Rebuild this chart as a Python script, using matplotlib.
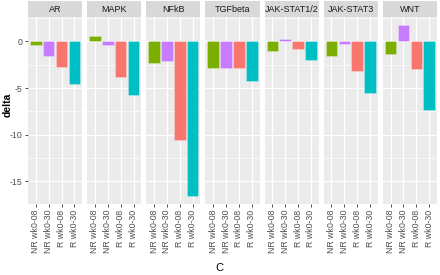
import matplotlib
matplotlib.use("Agg")
import matplotlib.pyplot as plt
import numpy as np

pathways = ["AR", "MAPK", "NFkB", "TGFbeta", "JAK-STAT1/2", "JAK-STAT3", "WNT"]
groups = ["NR wk0-08", "NR wk0-30", "R wk0-08", "R wk0-30"]
colors = ["#7CAE00", "#C77CFF", "#F8766D", "#00BFC4"]

ar = [-0.35, -1.55, -2.7, -4.55]
mapk = [0.55, -0.35, -3.8, -5.75]
nfkb = [-2.35, -2.1, -10.6, -16.5]
tgfbeta = [-2.8, -2.9, -2.8, -4.25]
jak12 = [-1.0, 0.25, -0.8, -2.0]
jak3 = [-1.6, -0.25, -3.2, -5.5]
wnt = [-1.3, 1.7, -2.95, -7.3]
values = [ar, mapk, nfkb, tgfbeta, jak12, jak3, wnt]

W, H = 440, 275
fig = plt.figure(figsize=(W / 100, H / 100), dpi=100)
plt.rcParams['font.family'] = ['Liberation Sans', 'DejaVu Sans']

allv = np.concatenate([np.array(v) for v in values] + [np.array([0.0])])
lo, hi = allv.min(), allv.max()
pad = (hi - lo) * 0.05
ylim = (lo - pad, hi + pad)

left, right = 28, 437
gap = 5
pw = (right - left - gap * (len(pathways) - 1)) / len(pathways)
ptop, pbot = 17, 204
strip_top = 1

for i, (name, vals) in enumerate(zip(pathways, values)):
    x0 = left + i * (pw + gap)
    ax = fig.add_axes([x0 / W, 1 - pbot / H, pw / W, (pbot - ptop) / H])
    ax.set_facecolor("#EBEBEB")
    x = np.arange(len(groups))
    ax.bar(x, vals, width=0.9, color=colors, edgecolor=(1, 1, 1, 0.35), linewidth=0.5, zorder=3)
    ax.set_xlim(-0.6, len(groups) - 0.4)
    ax.set_ylim(*ylim)
    ax.set_yticks([0, -5, -10, -15])
    ax.set_yticks([2.5, -2.5, -7.5, -12.5], minor=True)
    ax.set_xticks(x)
    ax.grid(True, which="major", color="white", linewidth=0.9, zorder=0)
    ax.grid(True, which="minor", axis="y", color="white", linewidth=0.45, zorder=0)
    for s in ax.spines.values():
        s.set_visible(False)
    ax.tick_params(axis="both", which="major", length=2.5, width=0.6, color="#333333",
                   labelsize=6.3, labelcolor="#4D4D4D", pad=1.5)
    ax.tick_params(axis="y", which="minor", length=0)
    ax.set_xticklabels(groups, rotation=90, va="top", ha="center")
    if i == 0:
        ax.set_yticklabels(["0", "-5", "-10", "-15"])
    else:
        ax.tick_params(axis="y", which="major", left=False, labelleft=False)
    # strip
    sax = fig.add_axes([x0 / W, 1 - ptop / H, pw / W, (ptop - strip_top) / H])
    sax.set_facecolor("#D9D9D9")
    sax.set_xticks([]); sax.set_yticks([])
    for s in sax.spines.values():
        s.set_visible(False)
    sax.text(0.5, 0.48, name, ha="center", va="center", fontsize=6.5, color="#1A1A1A",
             transform=sax.transAxes)

fig.text(8 / W, 1 - 105 / H, "delta", rotation=90, ha="center", va="center",
         fontsize=7.5, fontweight="bold", color="black")
fig.text(219 / W, 1 - 268 / H, "C", ha="center", va="center", fontsize=8, color="black")

fig.savefig("out.png", dpi=100, facecolor="white")
